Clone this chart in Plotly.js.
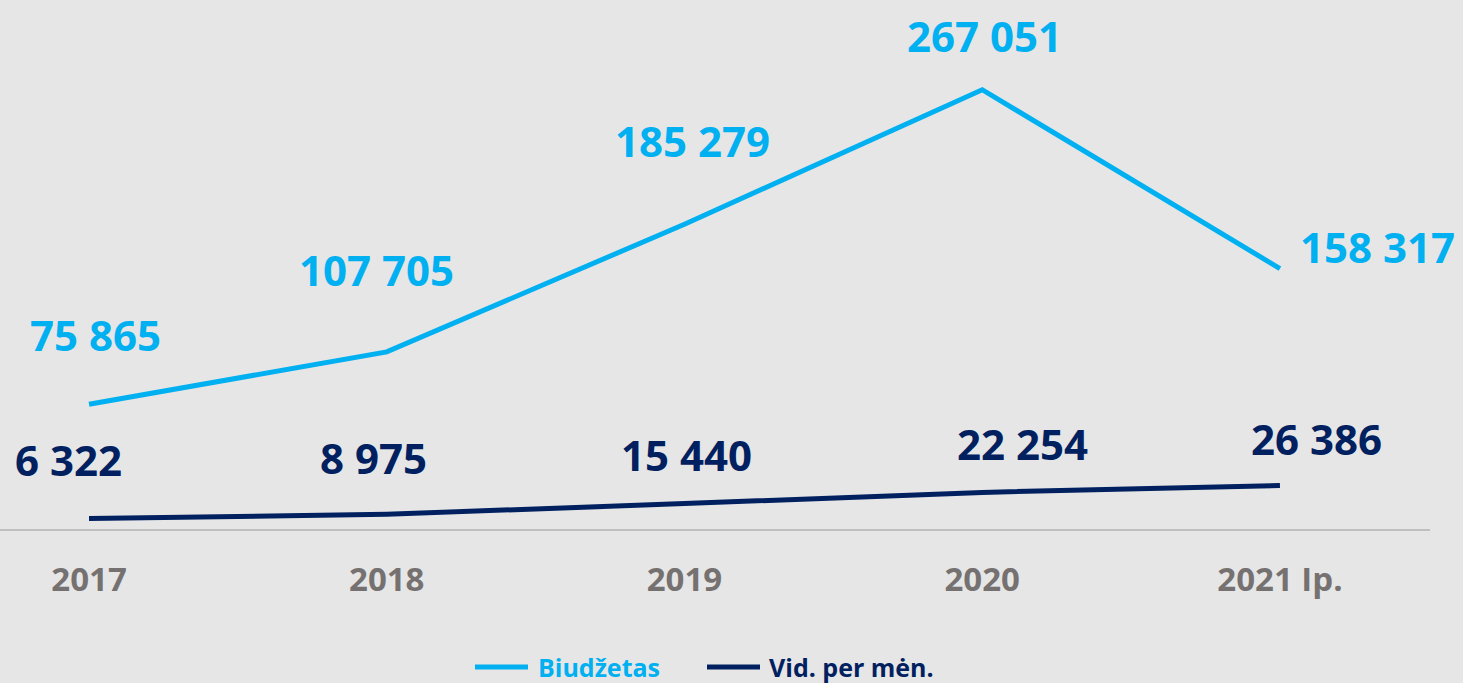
<!DOCTYPE html>
<html>
<head>
<meta charset="utf-8">
<script src="https://cdn.plot.ly/plotly-3.0.1.min.js"></script>
<style>
html,body{margin:0;padding:0;background:#e6e6e6;}
#chart{width:1463px;height:683px;}
</style>
</head>
<body>
<div id="chart"></div>
<script>
var categories = ["2017", "2018", "2019", "2020", "2021 Ip."];
var biudzetas = [75865, 107705, 185279, 267051, 158317];
var vidPerMen = [6322, 8975, 15440, 22254, 26386];
var seriesNames = ["Biudžetas", "Vid. per mėn."];

// label placement offsets (pixels) relative to each point
var budgetShift = [[6, 70], [-10, 82], [8, 84], [2, 54], [98, 22]];
var vidShift = [[-21, 59], [-13, 57], [2, 49], [40, 49], [37, 47]];

var LIGHT = "#00b0f0", DARK = "#002060";
var FONT = "Open Sans, Noto Sans, sans-serif";
var PLOT_W = 1430, PLOT_H = 529;

function fmt(v) {
  return String(v).replace(/\B(?=(\d{3})+(?!\d))/g, " ");
}

var idx = categories.map(function (c, i) { return i; });

var traces = [
  {x: idx, y: biudzetas, name: seriesNames[0], type: "scatter", mode: "lines",
   line: {color: LIGHT, width: 5}, hoverinfo: "skip", showlegend: false},
  {x: idx, y: vidPerMen, name: seriesNames[1], type: "scatter", mode: "lines",
   line: {color: DARK, width: 5}, hoverinfo: "skip", showlegend: false}
];

var annotations = [];
idx.forEach(function (i) {
  annotations.push({x: i, y: biudzetas[i], xref: "x", yref: "y", text: fmt(biudzetas[i]),
    showarrow: false, xshift: budgetShift[i][0], yshift: budgetShift[i][1],
    font: {family: FONT, size: 42, color: LIGHT, weight: 700}});
  annotations.push({x: i, y: vidPerMen[i], xref: "x", yref: "y", text: fmt(vidPerMen[i]),
    showarrow: false, xshift: vidShift[i][0], yshift: vidShift[i][1],
    font: {family: FONT, size: 42, color: DARK, weight: 700}});
});

// custom legend (line sample + coloured label)
var legendY = (PLOT_H - 667) / PLOT_H;
var legendItems = [
  {x0: 475, x1: 528, tx: 536, color: LIGHT, name: seriesNames[0]},
  {x0: 707, x1: 760, tx: 767, color: DARK, name: seriesNames[1]}
];
var shapes = [];
legendItems.forEach(function (it) {
  shapes.push({type: "line", xref: "paper", yref: "paper",
    x0: it.x0 / PLOT_W, x1: it.x1 / PLOT_W, y0: legendY, y1: legendY,
    line: {color: it.color, width: 5}});
  annotations.push({xref: "paper", yref: "paper", x: it.tx / PLOT_W, y: legendY,
    xanchor: "left", yanchor: "middle", showarrow: false, text: it.name,
    font: {family: FONT, size: 25, color: it.color, weight: 700}});
});

var layout = {
  width: 1463, height: 683,
  paper_bgcolor: "#e6e6e6", plot_bgcolor: "#e6e6e6",
  margin: {l: 0, r: 33, t: 0, b: 154, pad: 0, autoexpand: false},
  showlegend: false,
  xaxis: {tickmode: "array", tickvals: idx, ticktext: categories,
    range: [-0.299, 4.504], showgrid: false, zeroline: false,
    showline: true, linecolor: "#bfbfbf", linewidth: 2, ticks: "",
    ticklabelstandoff: 20,
    tickfont: {family: FONT, size: 33, color: "#767171", weight: 700}, fixedrange: true},
  yaxis: {range: [0, 321600], showgrid: false, zeroline: false, showline: false,
    showticklabels: false, fixedrange: true},
  shapes: shapes,
  annotations: annotations
};

Plotly.newPlot("chart", traces, layout, {displayModeBar: false, staticPlot: true});
</script>
</body>
</html>
